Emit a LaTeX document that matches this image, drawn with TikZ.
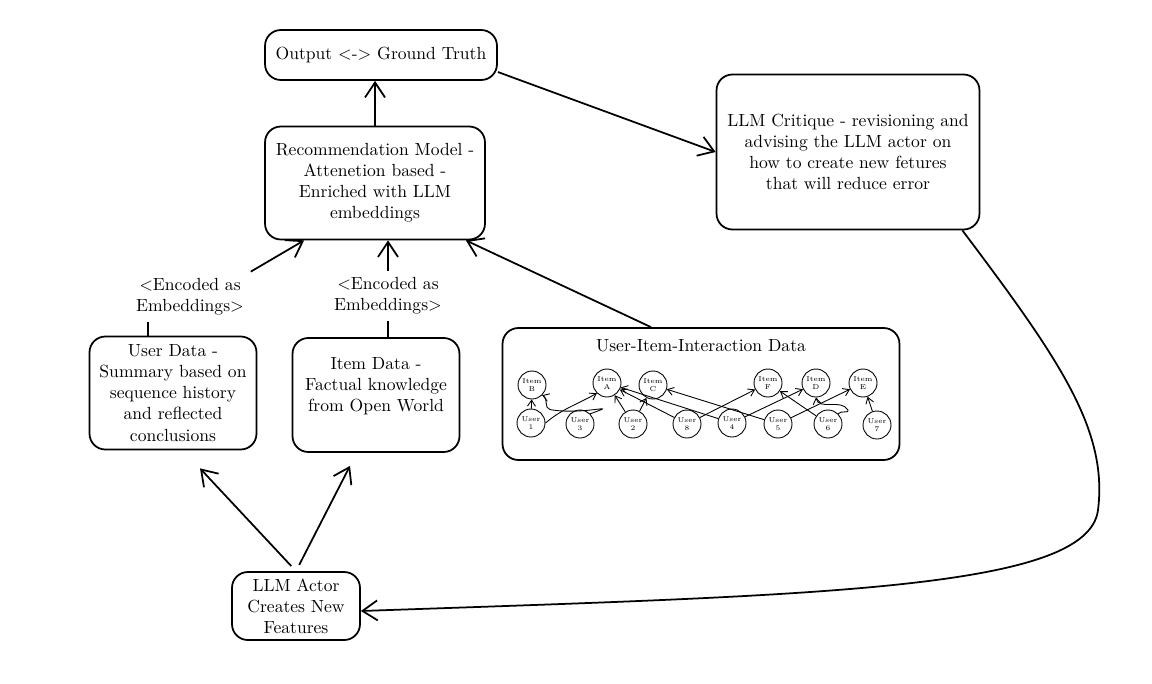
\documentclass[tikz,border=0pt]{standalone}
\usetikzlibrary{positioning, arrows.meta, calc}

\begin{document}
\begin{tikzpicture}[x=0.02cm, y=-0.02cm, very thick,
        box/.style={draw, rounded corners=9pt, align=center, line width=1pt, inner sep=2pt},
        item/.style={draw, circle, minimum size=0.56cm, inner sep=0pt, align=center, line width=0.5pt, font=\fontsize{4}{4.5}\selectfont},
        link/.style={-{Straight Barb[length=1.2mm, width=1.6mm]}, line width=0.5pt},
        flow/.style={-{Straight Barb[length=3mm, width=4mm]}, line width=1pt}]

        \useasboundingbox (0,0) rectangle (1152,683);

        %TOP
        \node[box, minimum width=4.64cm, minimum height=1cm] (out) at (381,55) {Output <-> Ground Truth};
        \node[box, minimum width=4.4cm, minimum height=2.26cm] (rec) at (375,183) {Recommendation Model -\\Attenetion based -\\Enriched with LLM\\embeddings};
        \node[box, minimum width=5.26cm, minimum height=3.1cm] (crit) at (848,152) {LLM Critique - revisioning and\\advising the LLM actor on\\how to create new fetures\\that will reduce error};

        % FEATURES
        \node[box, minimum width=3.34cm, minimum height=2.26cm] (user) at (173,393) {User Data -\\Summary based on\\sequence history\\and reflected\\conclusions};
        \node[box, minimum width=3.34cm, minimum height=2.28cm] (item) at (376,395) {Item Data -\\Factual knowledge\\from Open World\\ ~};
        \node[align=center] (enc1) at (190,297) {<Encoded as\\Embeddings>};
        \node[align=center] (enc2) at (388,296) {<Encoded as\\Embeddings>};

        % INTERACTION DATA
        \node[box, minimum width=7.94cm, minimum height=2.64cm] (inter) at (701,394) {};
        \node[below=1mm of inter.north] (title) {User-Item-Interaction Data};

        \node[item] (iB) at (532,385) {Item\\B};
        \node[item] (iA) at (607,383) {Item\\A};
        \node[item] (iC) at (653,385) {Item\\C};
        \node[item] (iF) at (768,383) {Item\\F};
        \node[item] (iD) at (816,383) {Item\\D};
        \node[item] (iE) at (863,383) {Item\\E};

        \node[item] (u1) at (531,423) {User\\1};
        \node[item] (u3) at (580,424) {User\\3};
        \node[item] (u2) at (633,424) {User\\2};
        \node[item] (u8) at (687,424) {User\\8};
        \node[item] (u4) at (732,423) {User\\4};
        \node[item] (u5) at (778,424) {User\\5};
        \node[item] (u6) at (828,424) {User\\6};
        \node[item] (u7) at (877,425) {User\\7};

        \draw[link] (u1) -- (iB);
        \draw[link] (u1.east) to[out=40, in=-150] (iA.south west);
        \draw[link] (u3.north east) to[out=20, in=-10, looseness=2.2] ([xshift=-6mm]u3.north) to[out=170, in=-20] (iB.south east);
        \draw[link] (u2) -- (iA);
        \draw[link] (u2) -- (iC);
        \draw[link] (u8) -- (iA);
        \draw[link] (u8) -- (iF);
        \draw[link] (u4) -- (iA);
        \draw[link] (u4) -- (iD);
        \draw[link] (u5) -- (iC);
        \draw[link] (u5) -- (iE);
        \node[coordinate] (loop6) at (848,410) {};
        \draw[link] (u6) -- (iF);
        \draw[link] (u6.north east) to[out=60, in=-60] (loop6) to[out=120, in=-80] (iD.south);
        \draw[link] (u7) -- (iE);

        % LLM ACTOR
        \node[box, minimum width=2.56cm, minimum height=1.36cm] (actor) at (296,606) {LLM Actor\\Creates New\\Features};

        %ARROWS
        \draw[flow] (rec.north) -- (rec.north |- out.south);
        \draw[flow] ([yshift=-3.4mm]out.east) -- (crit.west);
        \draw ([xshift=-5mm]user.north) -- ([xshift=-5mm]user.north |- enc1.south);
        \draw[flow] (enc1.north east) -- ([xshift=8mm]rec.south west);
        \draw (enc2.south) -- (enc2.south |- item.north);
        \draw[flow] (enc2.north) -- (enc2.north |- rec.south);
        \draw[flow] ([xshift=-1cm]inter.north) -- ([xshift=-4mm]rec.south east);
        \draw[flow, shorten <=1.4mm] (actor.north) -- ([xshift=5.4mm, yshift=-3.6mm]user.south);
        \draw[flow, shorten <=1.4mm] (actor.north) -- ([xshift=-5.2mm, yshift=-2.6mm]item.south);
        \draw[flow] ([xshift=-3.6mm]crit.south east) .. controls (1060,360) and (1108,430) .. (1098,510) .. controls (1088,590) and (820,595) .. ([yshift=-1mm]actor.east);

    \end{tikzpicture}
\end{document}
